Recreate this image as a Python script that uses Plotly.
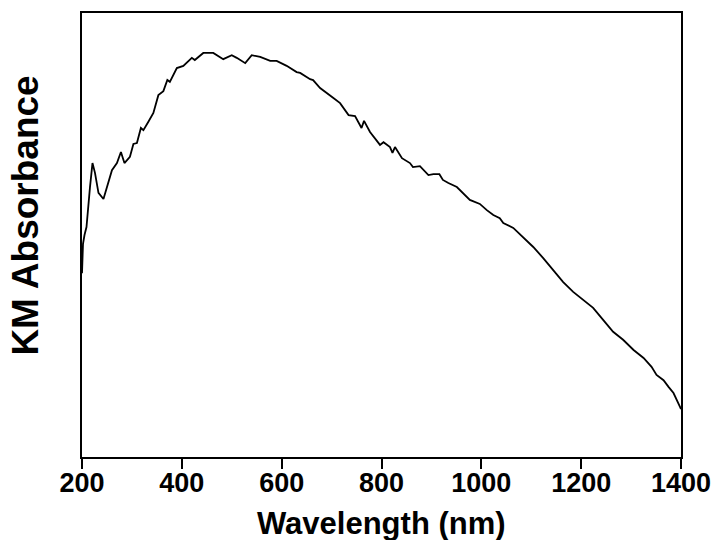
import plotly.graph_objects as go

wavelength = [200, 202, 205, 209, 216, 221, 226, 233, 243, 250, 260, 270, 278, 285, 296,
              303, 310, 318, 323, 333, 343, 353, 363, 371, 376, 390, 403, 420, 426, 443,
              463, 483, 500, 510, 527, 540, 557, 577, 590, 610, 630, 637, 657, 663, 677,
              703, 717, 734, 747, 760, 765, 777, 797, 804, 817, 822, 827, 841, 857, 863,
              877, 894, 904, 916, 923, 934, 951, 977, 997, 1011, 1024, 1037, 1044, 1064,
              1084, 1104, 1124, 1144, 1164, 1184, 1204, 1224, 1244, 1264, 1284, 1305,
              1325, 1341, 1351, 1365, 1375, 1385, 1398, 1400]
absorbance = [0.414, 0.48, 0.50, 0.518, 0.608, 0.662, 0.640, 0.595, 0.581, 0.608, 0.646,
              0.662, 0.687, 0.662, 0.676, 0.705, 0.707, 0.741, 0.736, 0.755, 0.775, 0.815,
              0.824, 0.849, 0.845, 0.876, 0.881, 0.899, 0.894, 0.910, 0.910, 0.896, 0.905,
              0.899, 0.887, 0.905, 0.901, 0.892, 0.892, 0.881, 0.867, 0.865, 0.851, 0.849,
              0.831, 0.809, 0.797, 0.770, 0.768, 0.741, 0.757, 0.732, 0.703, 0.709, 0.698,
              0.685, 0.698, 0.673, 0.662, 0.653, 0.655, 0.635, 0.637, 0.637, 0.624, 0.617,
              0.608, 0.579, 0.570, 0.556, 0.545, 0.538, 0.527, 0.516, 0.495, 0.473, 0.448,
              0.421, 0.394, 0.372, 0.354, 0.336, 0.309, 0.282, 0.264, 0.241, 0.223, 0.203,
              0.185, 0.173, 0.158, 0.144, 0.113, 0.108]

x_ticks = [200, 400, 600, 800, 1000, 1200, 1400]

FONT = "Arial, 'Liberation Sans', sans-serif"

fig = go.Figure()
fig.add_trace(go.Scatter(x=wavelength, y=absorbance, mode="lines",
                         line=dict(color="black", width=1.8), showlegend=False))

fig.update_layout(
    width=714, height=540,
    margin=dict(l=82, r=33, t=13, b=83, autoexpand=False),
    paper_bgcolor="white", plot_bgcolor="white",
    font=dict(family=FONT, color="black"),
    xaxis=dict(range=[200, 1400], tickvals=x_ticks, ticks="outside", ticklen=10,
               tickwidth=2, tickcolor="black", showline=True, linewidth=2,
               linecolor="black", mirror=True, showgrid=False, zeroline=False,
               automargin=False, ticklabelstandoff=-9,
               tickfont=dict(family=FONT, size=27, color="black", weight="bold")),
    yaxis=dict(range=[0, 1], showticklabels=False, ticks="", showline=True,
               linewidth=2, linecolor="black", mirror=True, showgrid=False,
               zeroline=False, automargin=False),
    annotations=[
        dict(text="<b>Wavelength (nm)</b>", xref="paper", yref="paper", x=0.5,
             y=-0.149, xanchor="center", yanchor="middle", showarrow=False,
             font=dict(family=FONT, size=31, color="black")),
        dict(text="<b>KM Absorbance</b>", xref="paper", yref="paper", x=-0.094,
             y=0.543, xanchor="center", yanchor="middle", textangle=-90,
             showarrow=False, font=dict(family=FONT, size=37, color="black")),
    ],
)

fig.write_html("out.html")
